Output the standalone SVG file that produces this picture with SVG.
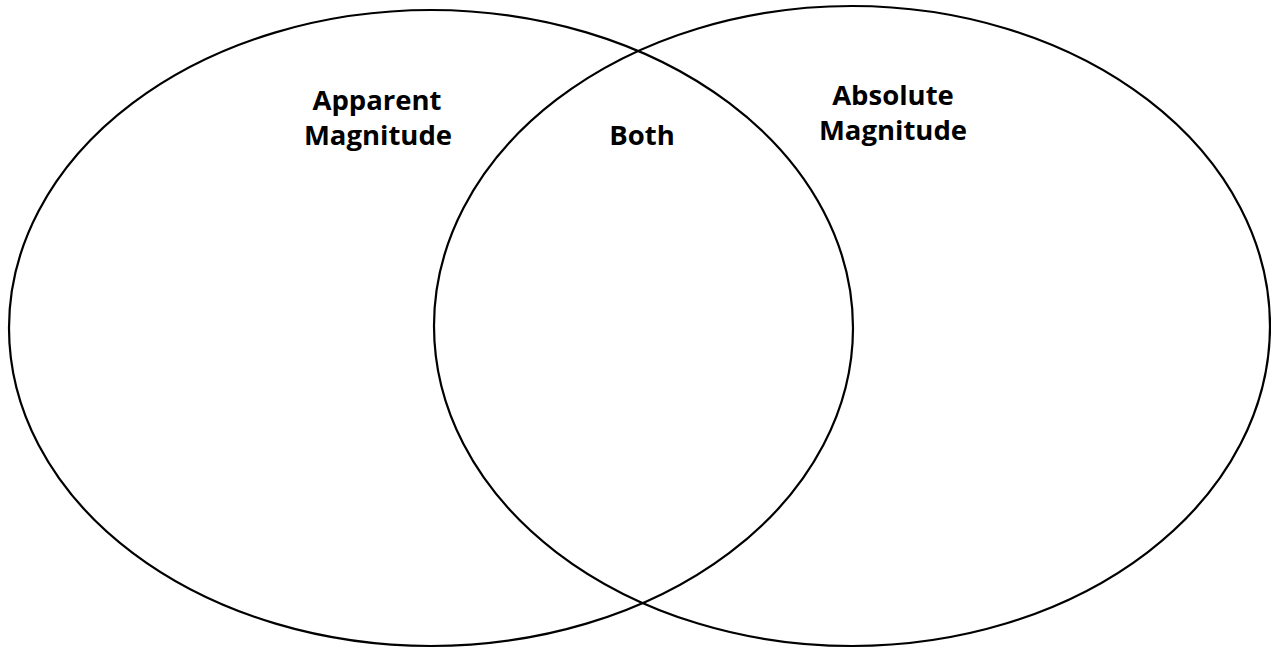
<svg xmlns="http://www.w3.org/2000/svg" width="1271" height="648" viewBox="0 0 1271 648">
<style>
.c{fill:none;stroke:#000;stroke-width:2.2}
.t{font-family:"Open Sans","Liberation Sans",sans-serif;font-weight:bold;font-size:27.5px;fill:#000;text-anchor:middle}
</style>
<rect width="1271" height="648" fill="#fff"/>
<g id="apparent">
<ellipse class="c" cx="431" cy="328" rx="422" ry="318"/>
<text class="t" x="377" y="110">Apparent</text>
<text class="t" x="378" y="145">Magnitude</text>
</g>
<g id="absolute">
<ellipse class="c" cx="852" cy="326" rx="418" ry="320"/>
<text class="t" x="893" y="105">Absolute</text>
<text class="t" x="893" y="140">Magnitude</text>
</g>
<g id="both">
<text class="t" x="642" y="145">Both</text>
</g>
<g id="connectors"/>
</svg>
